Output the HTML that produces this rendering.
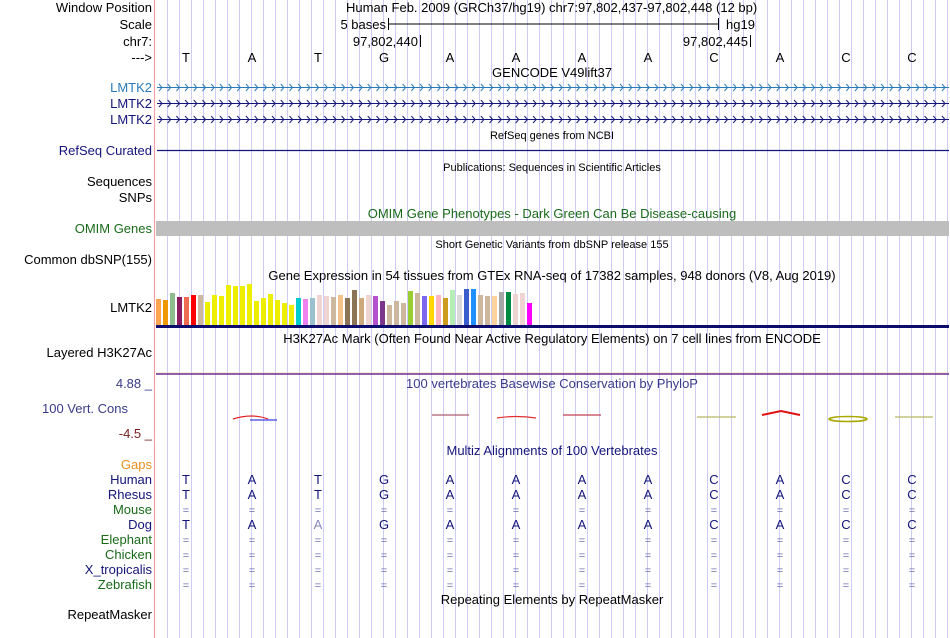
<!DOCTYPE html>
<html><head><meta charset="utf-8"><style>
html,body{margin:0;padding:0;background:#fff;}
svg{display:block;font-family:"Liberation Sans",sans-serif;}
</style></head><body>
<svg id="chart" width="950" height="638" viewBox="0 0 950 638">
<rect x="0" y="0" width="950" height="638" fill="#fff"/>
<g id="grid"></g>
<line x1="154.5" y1="0" x2="154.5" y2="638" stroke="#f5a0a8" stroke-width="1.2"/>
<g font-size="13" fill="#000" text-anchor="end">
<text x="152" y="12">Window Position</text>
<text x="152" y="29">Scale</text>
<text x="152" y="46">chr7:</text>
<text x="152" y="62">---&gt;</text>
<text x="152" y="92" fill="#2a7ab8">LMTK2</text>
<text x="152" y="108" fill="#14147a">LMTK2</text>
<text x="152" y="124" fill="#14147a">LMTK2</text>
<text x="152" y="155" fill="#14147a">RefSeq Curated</text>
<text x="152" y="186">Sequences</text>
<text x="152" y="202">SNPs</text>
<text x="152" y="233" fill="#1a6a1a">OMIM Genes</text>
<text x="152" y="264">Common dbSNP(155)</text>
<text x="152" y="312">LMTK2</text>
<text x="152" y="357">Layered H3K27Ac</text>
<text x="152" y="388" fill="#3a3a8a">4.88 _</text>
<text x="128" y="413" fill="#3a3a8a">100 Vert. Cons</text>
<text x="152" y="438" fill="#7a2020">-4.5 _</text>
<text x="152" y="469" fill="#e89020">Gaps</text>
<text x="152" y="484" fill="#14147a">Human</text>
<text x="152" y="499" fill="#14147a">Rhesus</text>
<text x="152" y="514" fill="#1a6a1a">Mouse</text>
<text x="152" y="529" fill="#14147a">Dog</text>
<text x="152" y="544" fill="#1a6a1a">Elephant</text>
<text x="152" y="559" fill="#1a6a1a">Chicken</text>
<text x="152" y="574" fill="#14147a">X_tropicalis</text>
<text x="152" y="589" fill="#1a6a1a">Zebrafish</text>
<text x="152" y="619">RepeatMasker</text>
</g>
<g font-size="13" fill="#000">
<text x="346" y="12">Human Feb. 2009 (GRCh37/hg19)   chr7:97,802,437-97,802,448 (12 bp)</text>
<text x="386" y="29" text-anchor="end">5 bases</text>
<line x1="388" y1="24" x2="718" y2="24" stroke="#000"/>
<line x1="388.5" y1="18" x2="388.5" y2="30" stroke="#000"/>
<line x1="718.5" y1="18" x2="718.5" y2="30" stroke="#000"/>
<text x="726" y="29">hg19</text>
<text x="418" y="46" text-anchor="end">97,802,440</text>
<line x1="420.5" y1="35" x2="420.5" y2="47" stroke="#000"/>
<text x="748" y="46" text-anchor="end">97,802,445</text>
<line x1="750.5" y1="35" x2="750.5" y2="47" stroke="#000"/>
</g>
<g id="bases" font-size="13" text-anchor="middle"></g>
<g font-size="13" text-anchor="middle">
<text x="552" y="77">GENCODE V49lift37</text>
<text x="552" y="139" font-size="11">RefSeq genes from NCBI</text>
<text x="552" y="171" font-size="11">Publications: Sequences in Scientific Articles</text>
<text x="552" y="218" fill="#1a6a1a">OMIM Gene Phenotypes - Dark Green Can Be Disease-causing</text>
<text x="552" y="248" font-size="11">Short Genetic Variants from dbSNP release 155</text>
<text x="552" y="280">Gene Expression in 54 tissues from GTEx RNA-seq of 17382 samples, 948 donors (V8, Aug 2019)</text>
<text x="552" y="343">H3K27Ac Mark (Often Found Near Active Regulatory Elements) on 7 cell lines from ENCODE</text>
<text x="552" y="388" fill="#3a3a8a">100 vertebrates Basewise Conservation by PhyloP</text>
<text x="552" y="455" fill="#14147a">Multiz Alignments of 100 Vertebrates</text>
<text x="552" y="604">Repeating Elements by RepeatMasker</text>
</g>
<defs>
<pattern id="chevL" x="157" y="0" width="8.7" height="638" patternUnits="userSpaceOnUse"><path d="M2 84 L5 87.5 L2 91" fill="none" stroke="#2a7ab8" stroke-width="1"/></pattern>
<pattern id="chevD" x="157" y="0" width="8.7" height="638" patternUnits="userSpaceOnUse"><path d="M2 100 L5 103.5 L2 107 M2 116 L5 119.5 L2 123" fill="none" stroke="#14147a" stroke-width="1"/></pattern>
</defs>
<g>
<line x1="157" y1="87.5" x2="949" y2="87.5" stroke="#2a7ab8"/>
<rect x="157" y="83" width="792" height="9" fill="url(#chevL)"/>
<line x1="157" y1="103.5" x2="949" y2="103.5" stroke="#14147a"/>
<line x1="157" y1="119.5" x2="949" y2="119.5" stroke="#14147a"/>
<rect x="157" y="99" width="792" height="26" fill="url(#chevD)"/>
</g>
<line x1="157" y1="150.5" x2="949" y2="150.5" stroke="#14147a" stroke-width="1.2"/>
<rect x="156" y="221" width="793" height="15" fill="#bebebe"/>
<g id="gtex"></g>
<rect x="156" y="325" width="793" height="3" fill="#0c0c6c"/>
<line x1="156" y1="372.5" x2="949" y2="372.5" stroke="#eedcb8" stroke-width="0.6"/>
<line x1="156" y1="374" x2="949" y2="374" stroke="#6a2a8a" stroke-width="1.5"/>
<g fill="none" stroke-width="1.2">
<path d="M233 419 Q252 413 268 419" stroke="#e02020"/><line x1="250" y1="420" x2="277" y2="420" stroke="#4040e0"/>
<line x1="432" y1="415" x2="469" y2="415" stroke="#b05a70"/>
<path d="M497 418 Q516 415 536 418" stroke="#e03030"/>
<line x1="563" y1="415" x2="601" y2="415" stroke="#c04050"/>
<line x1="697" y1="417" x2="736" y2="417" stroke="#b8b860"/>
<path d="M762 415 L781 411 L800 415" stroke="#e01010" stroke-width="2"/>
<ellipse cx="848" cy="419" rx="19" ry="2.5" stroke="#a8a800" stroke-width="1.6"/>
<line x1="895" y1="417" x2="933" y2="417" stroke="#b8b860"/>
</g>
<g id="multiz" font-size="13" text-anchor="middle"></g>
<script>
var bases = ["T","A","T","G","A","A","A","A","C","A","C","C"];
var dogBases = ["T","A","A","G","A","A","A","A","C","A","C","C"];
var gtexValues = [26,25,32,28,28,30,30,23,30,29,40,39,39,41,24,27,31,25,22,20,27,26,27,30,29,28,30,27,35,27,30,29,24,20,24,22,34,32,29,29,30,27,35,30,36,36,30,29,29,33,33,31,32,22];
var gtexColors = ["#ffa54f","#ee9a00","#8fbc8f","#8b1c62","#ee6a50","#ff0000","#cdb79e","#eeee00","#eeee00","#eeee00","#eeee00","#eeee00","#eeee00","#eeee00","#eeee00","#eeee00","#eeee00","#eeee00","#eeee00","#eeee00","#00cdcd","#ee82ee","#9ac0cd","#eed5d2","#eed5d2","#cdb79e","#f4c28b","#8b7355","#8b7355","#cdaa7d","#eed5d2","#b452cd","#7a378b","#cdb79e","#cdb79e","#cdb79e","#9acd32","#cdb79e","#7b68ee","#ffd700","#ffb6c1","#cd9b1d","#b4eeb4","#d9d9d9","#3a5fcd","#1e90ff","#cdb79e","#cdb79e","#ffd39b","#a6a6a6","#008b45","#eed5d2","#eed5d2","#ff00ff"];
var NS = "http://www.w3.org/2000/svg";
function xBase(i){ return 186 + 66*i; }
function xBar(i){ return 156 + 7*i; }
var gtexBase = 325, gtexScale = 1.0;
function yBar(v){ return gtexBase - v*gtexScale; }
var grid = document.getElementById('grid');
for (var gx = 167; gx < 950; gx += 12) {
  var l = document.createElementNS(NS,'line');
  l.setAttribute('x1', gx+0.5); l.setAttribute('x2', gx+0.5);
  l.setAttribute('y1', 0); l.setAttribute('y2', 638);
  l.setAttribute('stroke', '#ccccf4');
  
  
  grid.appendChild(l);
}
var bg = document.getElementById('bases');
bases.forEach(function(b,i){
  var t = document.createElementNS(NS,'text');
  t.setAttribute('x', xBase(i)); t.setAttribute('y', 62);
  t.textContent = b;
  
  
  bg.appendChild(t);
});
var gg = document.getElementById('gtex');
gtexValues.forEach(function(v,i){
  var r = document.createElementNS(NS,'rect');
  r.setAttribute('x', xBar(i)); r.setAttribute('y', yBar(v));
  r.setAttribute('width', 5); r.setAttribute('height', gtexBase - yBar(v));
  r.setAttribute('fill', gtexColors[i]);
  
  
  gg.appendChild(r);
});
var mz = document.getElementById('multiz');
var rows = [["human",484,bases],["rhesus",499,bases],["mouse",514,null],["dog",529,dogBases],["elephant",544,null],["chicken",559,null],["xtrop",574,null],["zebrafish",589,null]];
rows.forEach(function(row){
  bases.forEach(function(b,i){
    var t = document.createElementNS(NS,'text');
    t.setAttribute('x', xBase(i)); t.setAttribute('y', row[1]);
    if (row[2]) {
      t.textContent = row[2][i];
      var faint = (row[0]==="dog" && row[2][i]!==b);
      t.setAttribute('fill', faint ? '#8888bb' : '#14147a');
    } else {
      t.textContent = '=';
      t.setAttribute('fill', '#7070b0');
      t.setAttribute('font-size', '11');
    }
    
    
    mz.appendChild(t);
  });
});
</script>
</svg>
</body></html>
